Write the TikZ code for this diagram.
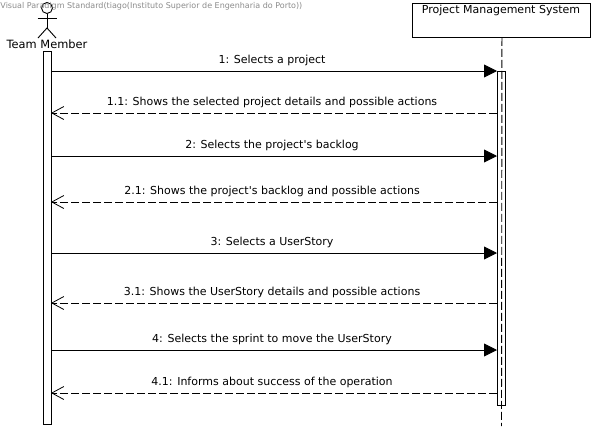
\documentclass[tikz,border=0pt]{standalone}
\usepackage{fontspec}
\setmainfont{DejaVu Sans}
\usetikzlibrary{arrows.meta}
\tikzset{
  msgfont/.style={font=\fontsize{11}{13}\selectfont},
  activation/.style={draw=black, fill=white, line width=0.9pt},
  callmsg/.style={line width=0.9pt, -{Triangle[length=13pt, width=13pt]}},
  replymsg/.style={line width=0.9pt, dash pattern=on 8pt off 3pt, -{Straight Barb[length=12pt, width=13pt, line width=0.8pt]}},
  lifeline/.style={line width=0.9pt, dash pattern=on 8pt off 3pt}
}
\begin{document}
\begin{tikzpicture}[x=1pt, y=-1pt, line width=0.9pt]
  \useasboundingbox (0,0) rectangle (595,429);
  \fill[white] (0,0) rectangle (595,429);
  % lifeline of the system
  \node[draw, line width=0.9pt, minimum width=178pt, minimum height=34pt, anchor=north west, inner sep=0pt] (system) at (412,3) {};
  \node[msgfont, anchor=base] (systemlabel) at (501,13.5) {Project Management System};
  \coordinate (lifeend) at (501.5,426);
  \draw[lifeline] ([xshift=0.5pt]system.south) -- (lifeend);
  % activations
  \node[activation, minimum width=8pt, minimum height=373pt, inner sep=0pt, anchor=north west] (memberbar) at (43,51) {};
  \node[draw, line width=0.9pt, minimum width=8pt, minimum height=334pt, inner sep=0pt, anchor=north west] (systembar) at (497,71) {};
  % the actor
  \node[draw, circle, line width=0.9pt, minimum size=11pt, inner sep=0pt] (head) at (47,8) {};
  \coordinate (hip) at (47,28);
  \coordinate (armL) at (37.5,18);
  \coordinate (armR) at (56.5,18);
  \coordinate (footL) at (38,38);
  \coordinate (footR) at (56,38);
  \draw (head.south) -- (hip);
  \draw (armL) -- (armR);
  \draw (footL) -- (hip) -- (footR);
  \node[font=\fontsize{11.4}{13}\selectfont, anchor=base] (member) at (47,48) {Team Member};
  \node[anchor=west, text=black!45, font=\fontsize{8}{9}\selectfont, inner sep=0pt] (stamp) at (0,6.5) {Visual Paradigm Standard(tiago(Instituto Superior de Engenharia do Porto))};
  % messages
  \foreach \yc/\n/\msg in {71/a/{1: Selects a project}, 156/b/{2: Selects the project\textquotesingle s backlog}, 253/c/{3: Selects a UserStory}, 350/d/{4: Selects the sprint to move the UserStory}}{
    \coordinate (from\n) at (51,\yc);
    \coordinate (to\n) at (497,\yc);
    \draw[callmsg] (from\n) -- (to\n);
    \node[msgfont, anchor=base] (label\n) at (272,\yc-8) {\msg};
  }
  \foreach \yc/\n/\msg in {113/e/{1.1: Shows the selected project details and possible actions}, 202/f/{2.1: Shows the project\textquotesingle s backlog and possible actions}, 303/g/{3.1: Shows the UserStory details and possible actions}, 393/h/{4.1: Informs about success of the operation}}{
    \coordinate (from\n) at (497,\yc);
    \coordinate (to\n) at (51,\yc);
    \draw[replymsg] (from\n) -- (to\n);
    \node[msgfont, anchor=base] (label\n) at (272,\yc-8) {\msg};
  }
\end{tikzpicture}
\end{document}
